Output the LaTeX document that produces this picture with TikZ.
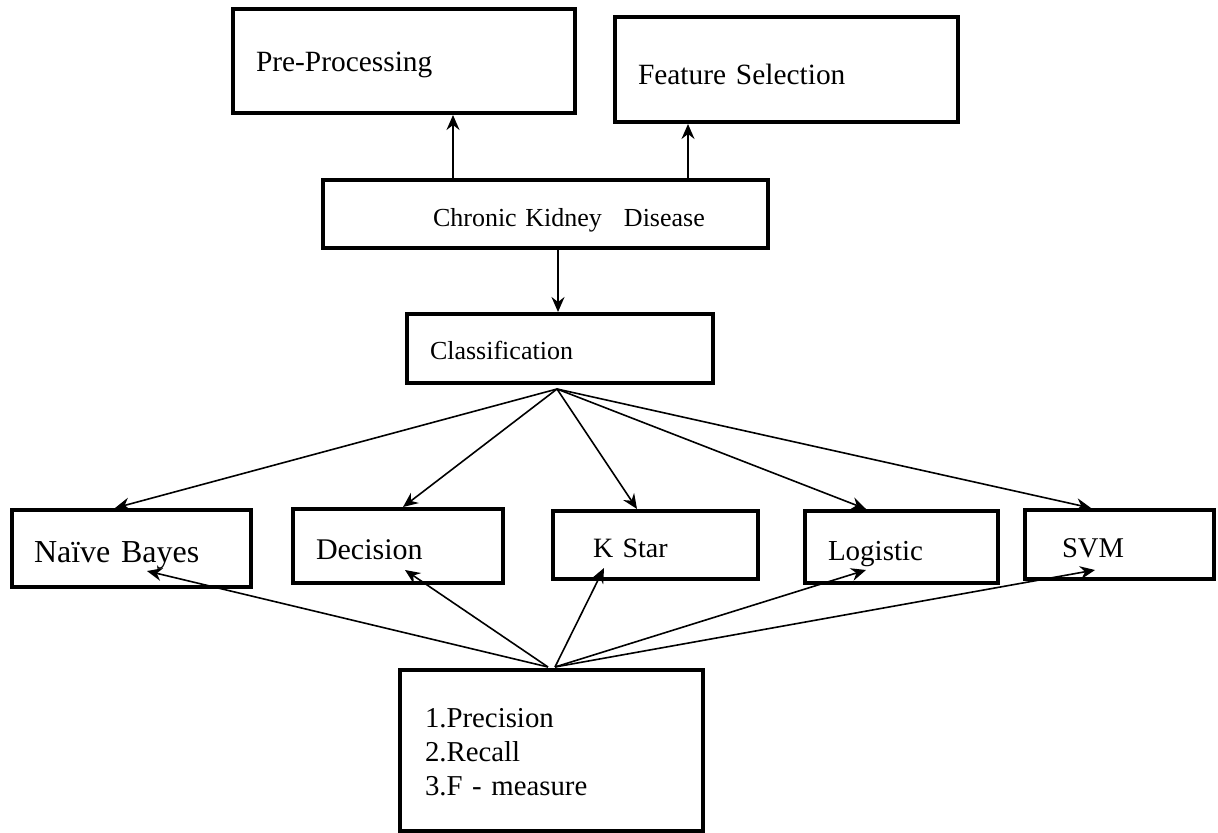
\documentclass[tikz,border=0pt]{standalone}
\usepackage{fontspec}
\setmainfont{Liberation Serif}
\usetikzlibrary{arrows.meta}

\tikzset{
  box/.style={draw, line width=2pt, inner sep=0pt, align=left, text depth=0pt},
  arr/.style={-{Stealth[length=7.5pt,width=6.5pt,inset=2.5pt]}, line width=0.8pt}
}

\begin{document}
\begin{tikzpicture}[x=0.5pt,y=-0.5pt]
\useasboundingbox (0,0) rectangle (1218,833);

% top row
\node[box, text width=171pt, minimum height=52pt, text height=11pt,
      font=\fontsize{14.7}{17}\selectfont] (pre) at (404,61) {\hspace*{11.5pt}Pre-Processing};
\node[box, text width=171.5pt, minimum height=52.5pt, text height=15pt,
      font=\fontsize{14.7}{17}\selectfont] (feat) at (786.5,69.5) {\hspace*{11.5pt}Feature Selection};

\node[box, text width=222.5pt, minimum height=34pt, text height=13pt,
      font=\fontsize{13}{15}\selectfont] (ckd) at (545.5,214) {\hspace*{55pt}Chronic Kidney\hspace{11pt}Disease};
\node[box, text width=153pt, minimum height=34.5pt, text height=11.5pt,
      font=\fontsize{13}{15}\selectfont] (cls) at (560,348.5) {\hspace*{11.5pt}Classification};

% classifiers
\node[box, text width=119.5pt, minimum height=38.5pt, text height=13.5pt,
      font=\fontsize{16}{19}\selectfont] (nb) at (131.5,548.5) {\hspace*{11pt}Naïve Bayes};
\node[box, text width=105pt, minimum height=37pt, text height=13pt,
      font=\fontsize{15}{18}\selectfont] (dec) at (398,546) {\hspace*{11.5pt}Decision};
\node[box, text width=102.5pt, minimum height=34pt, text height=12pt,
      font=\fontsize{14}{17}\selectfont] (ks) at (655.5,545) {\hspace*{20pt}K Star};
\node[box, text width=96.5pt, minimum height=36pt, text height=13pt,
      font=\fontsize{14.5}{17}\selectfont] (log) at (901.5,547) {\hspace*{11.5pt}Logistic};
\node[box, text width=94.5pt, minimum height=34.5pt, text height=12.5pt,
      font=\fontsize{14.3}{17}\selectfont] (svm) at (1119.5,544.5) {\hspace*{18.5pt}SVM};

% measures
\node[box, text width=151.5pt, minimum height=80.5pt, text height=0pt, text depth=23.5pt,
      font=\fontsize{14.4}{17}\selectfont] (met) at (551.5,750.5)
      {\hspace*{12.5pt}1.Precision\\\hspace*{12.5pt}2.Recall\\\hspace*{12.5pt}3.F - measure};

\coordinate (upa) at (453,0);
\coordinate (upb) at (688,0);
\coordinate (dna) at (558,0);
\draw[arr] (upa |- ckd.north) -- (upa |- pre.south);
\draw[arr] (upb |- ckd.north) -- (upb |- feat.south);
\draw[arr] (dna |- ckd.south) -- (dna |- cls.north);

\coordinate (clsfan) at ([xshift=-1.5pt,yshift=-2pt]cls.south);
\draw[arr] (clsfan) -- ([xshift=-8.25pt]nb.north);
\draw[arr] (clsfan) -- ([xshift=2.5pt]dec.north);
\draw[arr] (clsfan) -- ([xshift=-9.25pt]ks.north);
\draw[arr] (clsfan) -- ([xshift=-17.75pt]log.north);
\draw[arr] (clsfan) -- ([xshift=-14.25pt]svm.north);

\coordinate (metl) at ([xshift=-1.75pt,yshift=0.5pt]met.north);
\coordinate (metr) at ([xshift=1.75pt,yshift=0.5pt]met.north);
\coordinate (nbtip) at (147,571);
\coordinate (dectip) at (405,570);
\coordinate (kstip) at (604,568);
\coordinate (logtip) at (866,570);
\coordinate (svmtip) at (1095,570);
\draw[arr] (metl) -- (nbtip);
\draw[arr] (metl) -- (dectip);
\draw[arr] (metr) -- (kstip);
\draw[arr] (metr) -- (logtip);
\draw[arr] (metr) -- (svmtip);
\end{tikzpicture}
\end{document}
